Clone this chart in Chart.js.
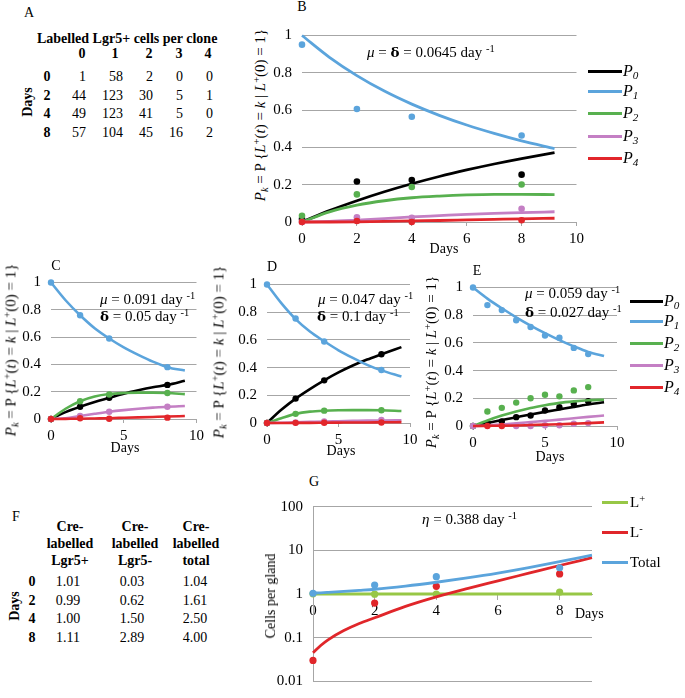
<!DOCTYPE html>
<html>
<head>
<meta charset="utf-8">
<script src="https://cdn.jsdelivr.net/npm/chart.js@4.4.1/dist/chart.umd.min.js"></script>
<style>
  html, body { margin:0; padding:0; background:#fff; }
  #page { position:relative; width:685px; height:698px; overflow:hidden; background:#fff;
          font-family:'Liberation Serif','Times New Roman',serif; color:#000; }
  .t { position:absolute; white-space:nowrap; line-height:1; }
  sup, sub { font-size:70%; line-height:0; position:relative; vertical-align:baseline; }
  sup { top:-0.5em; }
  sub { top:0.3em; }
  .dl { font-family:'DejaVu Serif',serif; font-weight:bold; font-size:0.9em; }
  canvas { position:absolute; }
</style>
</head>
<body>
<div id="page"></div>
<script>
// ---------------- DATA ----------------
// Table A
const aCols = ['0','1','2','3','4'];
const aDays = ['0','2','4','8'];
const aCounts = [[1,58,2,0,0],[44,123,30,5,1],[49,123,41,5,0],[57,104,45,16,2]];

// Table F
const fHeads = [['Cre-','labelled','Lgr5+'],['Cre-','labelled','Lgr5-'],['Cre-','labelled','total']];
const fDays = ['0','2','4','8'];
const fVals = [['1.01','0.03','1.04'],['0.99','0.62','1.61'],['1.00','1.50','2.50'],['1.11','2.89','4.00']];

// Shared probability axis ticks
const probYTicks = [0,0.2,0.4,0.6,0.8,1];
const probYLabels = ['0','0.2','0.4','0.6','0.8','1'];
const bXTicks = [0,2,4,6,8,10];
const bXLabels = ['0','2','4','6','8','10'];
const cdeXTicks = [0,5,10];
const cdeXLabels = ['0','5','10'];

// Panel B
const bDays = [0,2,4,8];
const bP0 = [0.016,0.217,0.225,0.254];
const bP1 = [0.951,0.606,0.564,0.464];
const bP2 = [0.033,0.148,0.188,0.201];
const bP3 = [0,0.025,0.023,0.071];
const bP4 = [0,0.005,0,0.009];
const bFitDays = [0,1,2,3,4,5,6,7,8,9.2];
const bF0 = [0,0.061,0.114,0.162,0.205,0.244,0.279,0.311,0.340,0.372];
const bF1 = [1,0.883,0.785,0.702,0.632,0.572,0.520,0.475,0.435,0.394];
const bF2 = [0,0.054,0.090,0.114,0.130,0.139,0.145,0.148,0.148,0.147];
const bF3 = [0,0.003,0.010,0.018,0.027,0.034,0.041,0.046,0.050,0.055];
const bF4 = [0,0.000,0.001,0.003,0.006,0.008,0.011,0.014,0.017,0.020];

// Panel C
const cDays = [0,2,4,8];
const cP0 = [0,0.09,0.155,0.25];
const cP1 = [1,0.76,0.59,0.38];
const cP2 = [0,0.13,0.18,0.19];
const cP3 = [0,0.022,0.053,0.09];
const cP4 = [0,0.006,0.002,0.01];
const cFitDays = [0,1,2,3,4,5,6,7,8,9.2];
const cF0 = [0,0.05,0.09,0.125,0.155,0.185,0.21,0.232,0.25,0.28];
const cF1 = [1,0.87,0.76,0.665,0.59,0.525,0.47,0.42,0.38,0.355];
const cF2 = [0,0.075,0.13,0.165,0.183,0.19,0.193,0.193,0.19,0.182];
const cF3 = [0,0.006,0.022,0.038,0.053,0.065,0.075,0.083,0.09,0.095];
const cF4 = [0,0.001,0.002,0.004,0.006,0.009,0.012,0.015,0.018,0.022];

// Panel D
const dDays = [0,2,4,8];
const dP0 = [0,0.176,0.308,0.496];
const dP1 = [1,0.755,0.588,0.383];
const dP2 = [0,0.066,0.089,0.092];
const dP3 = [0,0.004,0.012,0.022];
const dP4 = [0,0.001,0.002,0.004];
const dFitDays = [0,1,2,3,4,5,6,7,8,9.4];
const dF0 = [0,0.095,0.176,0.245,0.308,0.365,0.415,0.458,0.496,0.548];
const dF1 = [1,0.865,0.75,0.66,0.59,0.525,0.47,0.42,0.38,0.336];
const dF2 = [0,0.035,0.066,0.082,0.089,0.092,0.093,0.093,0.092,0.087];
const dF3 = [0,0.002,0.005,0.008,0.011,0.013,0.015,0.017,0.018,0.019];
const dF4 = [0,0,0.001,0.001,0.002,0.003,0.004,0.004,0.005,0.006];

// Panel E
const eDays = [0,1,2,3,4,5,6,7,8];
const eP0 = [0,0.017,0.033,0.064,0.076,0.112,0.136,0.160,0.179];
const eP1 = [1,0.873,0.837,0.764,0.715,0.653,0.637,0.564,0.519];
const eP2 = [0,0.105,0.131,0.169,0.2,0.226,0.214,0.257,0.281];
const eP3 = [0,null,null,0,0,0.005,0.005,0.017,0.021];
const eP4 = [null,0,0,null,null,null,null,null,null];
const eFitDays = [0,1,2,3,4,5,6,7,8,9.1];
const eF0 = [0,0.022,0.043,0.063,0.083,0.102,0.12,0.138,0.155,0.171];
const eF1 = [1,0.92,0.85,0.785,0.725,0.67,0.62,0.575,0.535,0.505];
const eF2 = [0,0.04,0.075,0.105,0.13,0.15,0.167,0.178,0.186,0.19];
const eF3 = [0,0.004,0.011,0.019,0.028,0.037,0.046,0.056,0.066,0.076];
const eF4 = [0,0.001,0.002,0.004,0.007,0.01,0.013,0.017,0.021,0.026];

// Panel G
const gXTicks = [0,2,4,6,8];
const gXLabels = ['0','2','4','6','8'];
const gYTicks = [0.01,0.1,1,10,100];
const gYLabels = ['0.01','0.1','1','10','100'];
const gDays = [0,2,4,8];
const gLplus = [1.01,0.99,1.00,1.11];
const gLminus = [0.03,0.62,1.50,2.89];
const gTotal = [1.04,1.61,2.50,4.00];
const gFitDays = [0,0.25,0.5,1,1.5,2,3,4,5,6,7,8,9.05];
const gFitLminus = [0.045,0.066,0.09,0.145,0.21,0.285,0.52,0.86,1.33,2.0,3.0,4.5,6.8];
const gFitTotal = [1.05,1.066,1.09,1.145,1.21,1.285,1.52,1.86,2.33,3.0,4.0,5.5,7.8];
const gFitLplusDays = [0,9.05];
const gFitLplus = [1,1];

// ---------------- STYLE ----------------
const FONT = "'Liberation Serif','Times New Roman',serif";
const GRID = '#A6A6A6';
const COL = { p0:'#000000', p1:'#5BA4DC', p2:'#58B04F', p3:'#C47FC4', p4:'#E2262B',
              lp:'#97C746', lm:'#E0262A', tot:'#5BA4DC' };
const pcols = [COL.p0, COL.p1, COL.p2, COL.p3, COL.p4];

const page = document.getElementById('page');

function txt(html, x, y, o = {}) {
  const d = document.createElement('div');
  d.className = 't';
  d.innerHTML = html;
  d.style.left = x + 'px';
  d.style.top = y + 'px';
  d.style.fontSize = (o.size || 15) + 'px';
  if (o.bold) d.style.fontWeight = 'bold';
  if (o.italic) d.style.fontStyle = 'italic';
  const al = o.align || 'left';
  const tx = al === 'center' ? '-50%' : al === 'right' ? '-100%' : '0';
  d.style.transform = `translate(${tx},-50%)`;
  if (o.rotate) { d.style.transform = 'translate(-50%,-50%) rotate(-90deg)'; }
  page.appendChild(d);
  return d;
}

function pts(xs, ys) {
  return xs.map((x, i) => ({ x, y: ys[i] })).filter(p => p.y !== null && p.y !== undefined);
}

function seriesSet(fx, fys, px, pys, lw, pr) {
  const ds = [];
  for (let k = 0; k < 5; k++) {
    const ord = (4 - k) * 2;
    ds.push({ data: pts(px, pys[k]), showLine:false, pointRadius:pr, pointHoverRadius:pr,
              pointBackgroundColor:pcols[k], pointBorderWidth:0, borderColor:pcols[k], order:ord, clip:false });
    ds.push({ data: pts(fx, fys[k]), showLine:true, borderColor:pcols[k], borderWidth:lw, pointRadius:0,
              cubicInterpolationMode:'monotone', order:ord + 1, clip:false, fill:false });
  }
  return ds;
}

function tickFont() { return { family: FONT, size: 15, lineHeight: 1 }; }

function probScales(xMax, xTicks, xLabels, wy, hx) {
  return {
    x: { type:'linear', min:0, max:xMax,
         afterBuildTicks: s => { s.ticks = xTicks.map(v => ({ value:v })); },
         afterFit: s => { s.height = hx; },
         grid: { drawOnChartArea:false, drawTicks:true, tickLength:4, color:GRID, lineWidth:1 },
         border: { display:true, color:GRID, width:1 },
         ticks: { autoSkip:false, maxRotation:0, padding:6, color:'#000', font:tickFont(),
                  callback: (v, i) => xLabels[i] } },
    y: { type:'linear', min:0, max:1,
         afterBuildTicks: s => { s.ticks = probYTicks.map(v => ({ value:v })); },
         afterFit: s => { s.width = wy; },
         grid: { drawTicks:false, color:GRID, lineWidth:1 },
         border: { display:false },
         ticks: { padding:10, color:'#000', font:tickFont(), callback: (v, i) => probYLabels[i] } }
  };
}

function makeChart(box, scales, datasets) {
  const c = document.createElement('canvas');
  c.width = box.w; c.height = box.h;
  c.style.left = box.l + 'px'; c.style.top = box.t + 'px';
  c.style.width = box.w + 'px'; c.style.height = box.h + 'px';
  page.appendChild(c);
  return new Chart(c, {
    type: 'scatter',
    data: { datasets },
    options: {
      responsive:false, animation:false, devicePixelRatio:1, events:[],
      layout: { padding: { left:0, right:box.pr, top:box.pt, bottom:box.pb || 0 } },
      plugins: { legend:{ display:false }, tooltip:{ enabled:false } },
      scales
    }
  });
}

// ---------------- CHARTS ----------------
// B: plot 302..581 x 28..222
makeChart({ l:270, t:18, w:320, h:240, pr:9, pt:10 },
  probScales(10, bXTicks, bXLabels, 32, 36),
  seriesSet(bFitDays, [bF0,bF1,bF2,bF3,bF4], bDays, [bP0,bP1,bP2,bP3,bP4], 2.8, 3.3));

// C: plot 51..197 x 279..419
makeChart({ l:10, t:265, w:200, h:200, pr:13, pt:14 },
  probScales(10, cdeXTicks, cdeXLabels, 41, 46),
  seriesSet(cFitDays, [cF0,cF1,cF2,cF3,cF4], cDays, [cP0,cP1,cP2,cP3,cP4], 2.6, 3.2));

// D: plot 267..410 x 281..423
makeChart({ l:224, t:267, w:200, h:200, pr:14, pt:14 },
  probScales(10, cdeXTicks, cdeXLabels, 43, 44),
  seriesSet(dFitDays, [dF0,dF1,dF2,dF3,dF4], dDays, [dP0,dP1,dP2,dP3,dP4], 2.6, 3.2));

// E: plot 473..617 x 284..426
makeChart({ l:432, t:270, w:200, h:200, pr:15, pt:14 },
  probScales(10, cdeXTicks, cdeXLabels, 41, 44),
  seriesSet(eFitDays, [eF0,eF1,eF2,eF3,eF4], eDays, [eP0,eP1,eP2,eP3,eP4], 2.6, 3.2));

// G: plot 313..592 x 500.7..690.7 (log)
makeChart({ l:270, t:490, w:330, h:208, pr:8, pt:10.7, pb:7.3 },
  {
    x: { type:'linear', min:0, max:9.05, position:{ y:1 },
         afterBuildTicks: s => { s.ticks = gXTicks.map(v => ({ value:v })); },
         afterFit: s => { s.height = 0; },
         grid: { drawOnChartArea:false, drawTicks:true, tickLength:5, color:GRID },
         border: { display:true, color:GRID },
         ticks: { autoSkip:false, maxRotation:0, padding:5, color:'#000', font:tickFont(),
                  callback: (v, i) => gXLabels[i] } },
    y: { type:'logarithmic', min:0.01, max:100,
         afterBuildTicks: s => { s.ticks = gYTicks.map(v => ({ value:v })); },
         afterFit: s => { s.width = 43; },
         grid: { drawTicks:false, color:GRID },
         border: { display:true, color:GRID },
         ticks: { padding:10, color:'#000', font:{ family:FONT, size:15, lineHeight:0.9 },
                  callback: (v, i) => gYLabels[i] } }
  },
  [
    { data: pts(gDays, gTotal), showLine:false, pointRadius:3.6, pointBackgroundColor:COL.tot, pointBorderWidth:0, order:0, clip:false },
    { data: pts(gFitDays, gFitTotal), showLine:true, borderColor:COL.tot, borderWidth:2.8, pointRadius:0, cubicInterpolationMode:'monotone', order:1, clip:false },
    { data: pts(gDays, gLminus), showLine:false, pointRadius:3.6, pointBackgroundColor:COL.lm, pointBorderWidth:0, order:2, clip:false },
    { data: pts(gFitDays, gFitLminus), showLine:true, borderColor:COL.lm, borderWidth:2.8, pointRadius:0, cubicInterpolationMode:'monotone', order:3, clip:false },
    { data: pts(gDays, gLplus), showLine:false, pointRadius:3.6, pointBackgroundColor:COL.lp, pointBorderWidth:0, order:4, clip:false },
    { data: pts(gFitLplusDays, gFitLplus), showLine:true, borderColor:COL.lp, borderWidth:2.8, pointRadius:0, order:5, clip:false }
  ]);

// ---------------- TEXT ----------------
// Panel letters
txt('A', 29, 12.5, { size:14, align:'center' });
txt('B', 302, 7, { size:14, align:'center' });
txt('C', 56, 266, { size:14, align:'center' });
txt('D', 272, 267, { size:14, align:'center' });
txt('E', 477, 271, { size:14, align:'center' });
txt('F', 16, 517, { size:14, align:'center' });
txt('G', 314, 482, { size:14, align:'center' });

// Table A
txt('Labelled Lgr5+ cells per clone', 37, 39, { size:14, bold:true });
const aHeadX = [82,115,149,179,208];
const aValRight = [86,123,153,183,213];
const aRowY = [77,96,114,133];
aCols.forEach((c, i) => txt(c, aHeadX[i], 54, { size:14, bold:true, align:'center' }));
aDays.forEach((d, r) => {
  txt(d, 47, aRowY[r], { size:14, bold:true, align:'center' });
  aCounts[r].forEach((v, i) => txt(String(v), aValRight[i], aRowY[r], { size:14, align:'right' }));
});
txt('Days', 28, 102, { size:14, bold:true, rotate:true });

// Table F
const fColX = [70,135,196];
const fHeadY = [527,544,561];
const fRowY = [582,601,619,638];
const fValX = [68,132,195];
fHeads.forEach((h, c) => h.forEach((s, j) => txt(s, fColX[c], fHeadY[j], { size:14, bold:true, align:'center' })));
fDays.forEach((d, r) => {
  txt(d, 32, fRowY[r], { size:14, bold:true, align:'center' });
  fVals[r].forEach((v, c) => txt(v, fValX[c], fRowY[r], { size:14, align:'center' }));
});
txt('Days', 15, 606, { size:14, bold:true, rotate:true });

// Y axis titles
const yTitle = '<i>P<sub>k</sub></i> = P {<i>L</i><sup>+</sup>(<i>t</i>) = <i>k</i> | <i>L</i><sup>+</sup>(0) = 1}';
txt(yTitle, 260, 115, { size:15, rotate:true });
txt(yTitle, 11, 350, { size:15, rotate:true });
txt(yTitle, 219, 352, { size:15, rotate:true });
txt(yTitle, 431, 362, { size:15, rotate:true });
txt('Cells per gland', 271, 596, { size:14, rotate:true });

// X axis titles
txt('Days', 444, 249, { size:14, align:'center' });
txt('Days', 125, 448, { size:14, align:'center' });
txt('Days', 341, 451, { size:14, align:'center' });
txt('Days', 550, 457, { size:14, align:'center' });
txt('Days', 575, 614, { size:14 });

// Annotations
txt('<i>μ</i> = <span class="dl">δ</span> = 0.0645 day <sup>-1</sup>', 367, 52, { size:15 });
txt('<i>μ</i> = 0.091 day <sup>-1</sup>', 100, 299, { size:15 });
txt('<span class="dl">δ</span> = 0.05 day <sup>-1</sup>', 100, 316, { size:15 });
txt('<i>μ</i> = 0.047 day <sup>-1</sup>', 318, 299, { size:15 });
txt('<span class="dl">δ</span> = 0.1 day <sup>-1</sup>', 317, 316, { size:15 });
txt('<i>μ</i> = 0.059 day <sup>-1</sup>', 525, 293, { size:15 });
txt('<span class="dl">δ</span> = 0.027 day <sup>-1</sup>', 525, 312, { size:15 });
txt('<i>η</i> = 0.388 day <sup>-1</sup>', 422, 519, { size:15 });

// Legends
function legendLine(x1, x2, y, color) {
  const d = document.createElement('div');
  d.style.cssText = `position:absolute;left:${x1}px;top:${y - 1.5}px;width:${x2 - x1}px;height:3px;background:${color};`;
  page.appendChild(d);
}
const pNames = ['0','1','2','3','4'];
const bLegY = [71,91,113,136,158];
const eLegY = [301,321,343,365,387];
pNames.forEach((n, k) => {
  legendLine(588, 622, bLegY[k], pcols[k]);
  txt('<i>P<sub>' + n + '</sub></i>', 623, bLegY[k], { size:16 });
  legendLine(630, 663, eLegY[k], pcols[k]);
  txt('<i>P<sub>' + n + '</sub></i>', 664, eLegY[k], { size:16 });
});
const gLeg = [['L<sup>+</sup>', COL.lp, 502], ['L<sup>-</sup>', COL.lm, 532], ['Total', COL.tot, 562]];
gLeg.forEach(([lab, c, y]) => { legendLine(602, 628, y, c); txt(lab, 630, y, { size:15 }); });
</script>
</body>
</html>
